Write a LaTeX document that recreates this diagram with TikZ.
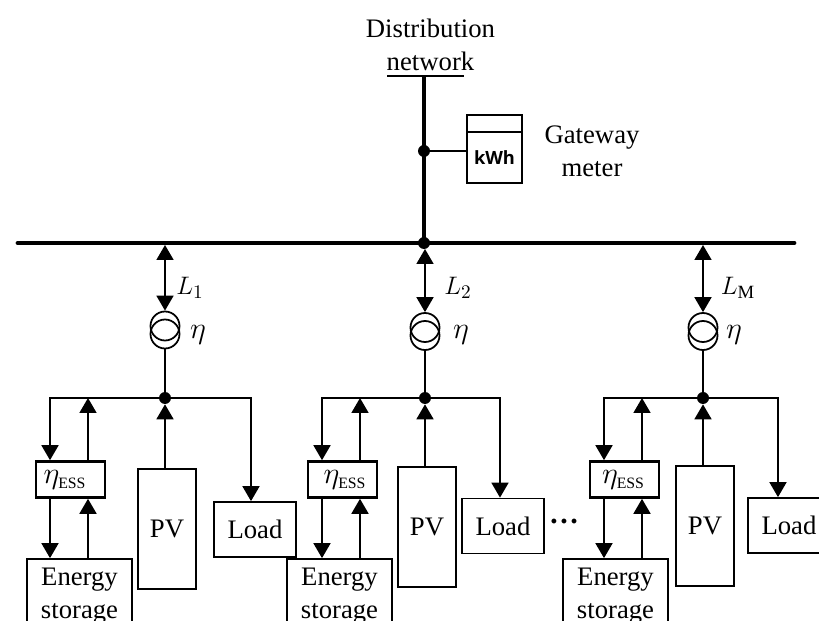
\documentclass[tikz,border=0pt]{standalone}
\usepackage{fontspec}
\setmainfont{Liberation Serif}
\newfontfamily\meterfont{Open Sans}
\usetikzlibrary{arrows.meta}
\tikzset{
  every node/.style={font=\fontsize{15.2}{18.7}\selectfont, align=center, inner sep=0pt},
  wire/.style={line width=1pt},
  arrow/.style={wire, -{Triangle[length=3mm, width=3.4mm]}},
  biarrow/.style={wire, {Triangle[length=3mm, width=3.4mm]}-{Triangle[length=3mm, width=3.4mm]}},
  busline/.style={line width=2.8pt, line cap=round},
  feedline/.style={line width=2.2pt},
  dot/.style={circle, fill=black, minimum size=2.4mm},
  winding/.style={circle, draw, line width=1pt, minimum size=5.8mm},
  box/.style={draw, line width=1pt},
  essbox/.style={draw, line width=1.5pt, minimum width=13.8mm, minimum height=7.2mm},
  storebox/.style={box, minimum width=21mm, minimum height=15mm},
  pvbox/.style={box, minimum width=11.6mm, minimum height=24mm},
  loadbox/.style={box, minimum width=16.4mm, minimum height=11mm},
  bigmath/.style={font=\fontsize{18}{20}\selectfont}
}
\begin{document}
\begin{tikzpicture}[x=0.02cm, y=-0.02cm]
  \useasboundingbox (0,0) rectangle (819,621);
  \clip (0,0) rectangle (819,621);
  \coordinate (busw) at (18,243);
  \coordinate (buse) at (794,243);
  \coordinate (netl) at (387,76);
  \coordinate (netr) at (464,76);
  \coordinate (nett) at (424,76);
  \draw[busline] (busw) -- (buse);
  \draw[wire] (netl) -- (netr);
  \node[dot] (hub) at (424,243) {};
  \node[dot] (gw) at (424,151) {};
  \draw[feedline] (nett) -- (hub.center);
  \node (net) at (430.5,44.5) {Distribution\\network};
  \node[box, minimum width=11mm, minimum height=3.4mm] (lid) at (494.5,123.5) {};
  \node[box, minimum width=11mm, minimum height=10.2mm, font=\fontsize{10.4}{14}\meterfont\bfseries] (met) at (494.5,157.5) {kWh};
  \node (gwl) at (592,151) {Gateway\\meter};
  \draw[wire] (gw.center) -- (gw -| met.west);
  \foreach \n/\x/\yt/\yf/\xd/\xu/\xr/\xe/\xs/\xp/\yp/\xo/\yo in {
    1/165/245/326/50/88/251/70.5/79.5/167/529/255/529.5,
    2/425/249/327.5/322/360/500/342.5/339.5/427/527/503/526,
    3/703/245/327.5/604/642/778/624.5/615.5/705/526/789/525.5} {
    \coordinate (tap\n) at (\x,\yt);
    \node[winding] (xa\n) at (\x,\yf) {};
    \node[winding] (xb\n) at (\x,\yf+8) {};
    \node[dot] (j\n) at (\x,398) {};
    \coordinate (dn\n) at (\xd,398);
    \coordinate (up\n) at (\xu,398);
    \coordinate (rt\n) at (\xr,398);
    \node[essbox] (ess\n) at (\xe,479.5) {};
    \node[storebox] (sto\n) at (\xs,596.5) {Energy\\storage};
    \node[pvbox] (pv\n) at (\xp,\yp) {PV};
    \node[loadbox] (load\n) at (\xo,\yo) {Load};
    \draw[biarrow] (tap\n) -- (xa\n.north);
    \draw[wire] (xb\n.south) -- (j\n.center);
    \draw[arrow] (j\n.center) -- (dn\n) -- (dn\n |- ess\n.north);
    \draw[arrow] (ess\n.north -| up\n) -- (up\n);
    \draw[arrow] (j\n.center) -- (rt\n) -- (load\n.north -| rt\n);
    \draw[arrow] (pv\n.north -| j\n) -- (j\n.south);
    \draw[arrow] (ess\n.south -| dn\n) -- (sto\n.north -| dn\n);
    \draw[arrow] (sto\n.north -| up\n) -- (ess\n.south -| up\n);
  }
  \foreach \n/\lx/\ex/\qx/\t in {1/190/198/65/1, 2/458/461/345/2, 3/738/734/623.5/\mathrm{M}} {
    \node (lab\n) at (\lx,288) {$L_{\t}$};
    \node[bigmath] (eta\n) at (\ex,335) {$\eta$};
    \node[bigmath] (essl\n) at (\qx,480) {$\eta_{\scriptscriptstyle\mathrm{ESS}}$};
  }
  \node[font=\fontsize{17}{20}\selectfont\bfseries] (more) at (564,522) {…};
\end{tikzpicture}
\end{document}
